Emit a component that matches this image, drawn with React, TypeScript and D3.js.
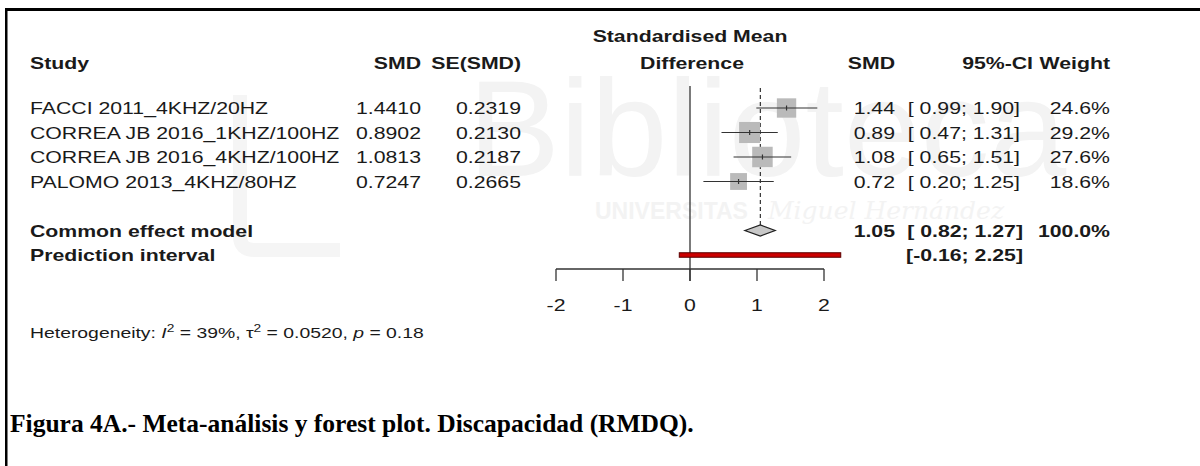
import React from "react";
import * as d3 from "d3";

// ---------- data ----------
const studies = [
  "FACCI 2011_4KHZ/20HZ",
  "CORREA JB 2016_1KHZ/100HZ",
  "CORREA JB 2016_4KHZ/100HZ",
  "PALOMO 2013_4KHZ/80HZ",
];
const smd = [1.441, 0.8902, 1.0813, 0.7247];
const seSmd = [0.2319, 0.213, 0.2187, 0.2665];
const ciLower = [0.99, 0.47, 0.65, 0.2];
const ciUpper = [1.9, 1.31, 1.51, 1.25];
const weights = [24.6, 29.2, 27.6, 18.6];
const pooledEstimate = [1.05];
const pooledCI = [0.82, 1.27];
const predictionInterval = [-0.16, 2.25];
const xTicks = [-2, -1, 0, 1, 2];
const heterogeneity = { i2: "39%", tau2: "0.0520", p: "0.18" };

// ---------- layout ----------
const W = 1200;
const H = 466;
const FONT = "'Liberation Sans', Arial, Helvetica, sans-serif";
const FS = 17;
const SX = 1.25;

const x = d3.scaleLinear().domain([-2, 2]).range([556, 824]);
const yRow = d3.scaleLinear().domain([0, 1]).range([108, 132.5]);
const boxSide = d3.scaleSqrt().domain([0, 27.6]).range([0, 20.5]);

const f2 = d3.format(".2f");
const f4 = d3.format(".4f");
const f1 = d3.format(".1f");
const ciFmt = (v: number) => (v < 0 ? f2(v).replace("−", "-") : " " + f2(v));

type TProps = {
  x: number;
  cy: number;
  anchor?: "start" | "middle" | "end";
  bold?: boolean;
  size?: number;
  sx?: number;
  fill?: string;
  family?: string;
  children: React.ReactNode;
};

function T({ x, cy, anchor = "start", bold = false, size = FS, sx = SX, fill = "#1a1a1a", family = FONT, children }: TProps) {
  const base = cy + size * 0.36;
  return (
    <text
      transform={`translate(${x},${base}) scale(${sx},1)`}
      textAnchor={anchor}
      fontFamily={family}
      fontSize={size}
      fontWeight={bold ? "bold" : "normal"}
      fill={fill}
      style={{ whiteSpace: "pre" }}
    >
      {children}
    </text>
  );
}

export default function App() {
  const studyX = 30;
  const smdRight = 421;
  const seRight = 521;
  const rSmdRight = 895;
  const ciRight = 1020;
  const ciHeadRight = 1033;
  const wRight = 1110;

  const headerY = 63;
  const header2Y = 36;
  const pooledRow = 5;
  const predRow = 6;
  const axisY = 269;
  const tickLen = 12;
  const refTop = 86;

  const pe = pooledEstimate[0];
  const py = yRow(pooledRow);
  const dh = 5.5;
  const diamond = [
    [x(pooledCI[0]), py],
    [x(pe), py - dh],
    [x(pooledCI[1]), py],
    [x(pe), py + dh],
  ];

  return (
    <svg
      width={W}
      height={H}
      viewBox={`0 0 ${W} ${H}`}
      style={{ position: "absolute", left: 0, top: 0, background: "#fff" }}
    >
      <rect x={0} y={0} width={W} height={H} fill="#fff" />

      {/* faint watermark */}
      <path d="M 240 95 L 240 236 Q 240 250 254 250 L 340 250" fill="none" stroke="#f5f5f5" strokeWidth={14} />
      <g fill="#f3f3f3" fontFamily={FONT} aria-hidden="true">
        <text x={468} y={176} fontSize={138}>Biblioteca</text>
        <text x={595} y={219} fontSize={23} fontWeight="bold">UNIVERSITAS</text>
        <text x={768} y={219} fontSize={25} fontStyle="italic" fontFamily="'DejaVu Serif', serif">Miguel Hernández</text>
      </g>

      {/* border */}
      <rect x={5} y={8} width={W - 5} height={3} fill="#000" />
      <rect x={5} y={8} width={2.5} height={H - 8} fill="#000" />

      {/* headers */}
      <T x={studyX} cy={headerY} bold>Study</T>
      <T x={smdRight} cy={headerY} bold anchor="end">SMD</T>
      <T x={seRight} cy={headerY} bold anchor="end">SE(SMD)</T>
      <T x={x(0)} cy={header2Y} bold anchor="middle">Standardised Mean</T>
      <T x={x(0) + 2} cy={headerY} bold anchor="middle">Difference</T>
      <T x={rSmdRight} cy={headerY} bold anchor="end">SMD</T>
      <T x={ciHeadRight} cy={headerY} bold anchor="end">95%-CI</T>
      <T x={wRight} cy={headerY} bold anchor="end">Weight</T>

      {/* reference lines */}
      <line x1={x(0)} x2={x(0)} y1={refTop} y2={axisY + tickLen} stroke="#333" strokeWidth={1.3} />
      <line x1={x(pe)} x2={x(pe)} y1={refTop + 2} y2={py - dh} stroke="#333" strokeWidth={1.2} strokeDasharray="4,3" />

      {/* studies */}
      {studies.map((s, i) => {
        const cy = yRow(i);
        const side = boxSide(weights[i]);
        return (
          <g key={s}>
            <T x={studyX} cy={cy}>{s}</T>
            <T x={smdRight} cy={cy} anchor="end">{f4(smd[i])}</T>
            <T x={seRight} cy={cy} anchor="end">{f4(seSmd[i])}</T>
            <rect x={x(smd[i]) - side / 2} y={cy - side / 2} width={side} height={side} fill="#bababa" />
            <line x1={x(ciLower[i])} x2={x(ciUpper[i])} y1={cy} y2={cy} stroke="#333" strokeWidth={1.2} />
            <line x1={x(smd[i])} x2={x(smd[i])} y1={cy - 2.5} y2={cy + 2.5} stroke="#333" strokeWidth={1.2} />
            <T x={rSmdRight} cy={cy} anchor="end">{f2(smd[i])}</T>
            <T x={ciRight} cy={cy} anchor="end">{`[${ciFmt(ciLower[i])}; ${f2(ciUpper[i])}]`}</T>
            <T x={wRight} cy={cy} anchor="end">{`${f1(weights[i])}%`}</T>
          </g>
        );
      })}

      {/* pooled */}
      <T x={studyX} cy={py} bold>Common effect model</T>
      <polygon points={diamond.map((p) => p.join(",")).join(" ")} fill="#c8c8c8" stroke="#222" strokeWidth={1.3} />
      <T x={rSmdRight} cy={py} bold anchor="end">{f2(pe)}</T>
      <T x={ciRight + 3} cy={py} bold anchor="end">{`[${ciFmt(pooledCI[0])}; ${f2(pooledCI[1])}]`}</T>
      <T x={wRight} cy={py} bold anchor="end">{`${f1(weights.reduce((a, b) => a + b, 0))}%`}</T>

      {/* prediction interval */}
      <T x={studyX} cy={yRow(predRow)} bold>Prediction interval</T>
      <rect
        x={x(predictionInterval[0])}
        y={yRow(predRow) - 2.25}
        width={x(predictionInterval[1]) - x(predictionInterval[0])}
        height={4.5}
        fill="#cc0000"
        stroke="#5a0000"
        strokeWidth={1}
      />
      <T x={ciRight + 3} cy={yRow(predRow)} bold anchor="end">{`[${ciFmt(predictionInterval[0])}; ${f2(predictionInterval[1])}]`}</T>

      {/* axis */}
      <line x1={x(-2)} x2={x(2)} y1={axisY} y2={axisY} stroke="#333" strokeWidth={1.3} />
      {xTicks.map((t) => (
        <g key={t}>
          <line x1={x(t)} x2={x(t)} y1={axisY} y2={axisY + tickLen} stroke="#333" strokeWidth={1.3} />
          <T x={x(t)} cy={305} anchor="middle">{String(t)}</T>
        </g>
      ))}

      {/* heterogeneity */}
      <text
        transform={`translate(${studyX},${332 + 15.5 * 0.36}) scale(${SX},1)`}
        fontFamily={FONT}
        fontSize={15.5}
        fill="#1a1a1a"
      >
        {"Heterogeneity: "}
        <tspan fontStyle="italic">I</tspan>
        <tspan dy={-6} fontSize={11}>2</tspan>
        <tspan dy={6}>{` = ${heterogeneity.i2}, τ`}</tspan>
        <tspan dy={-6} fontSize={11}>2</tspan>
        <tspan dy={6}>{` = ${heterogeneity.tau2}, `}</tspan>
        <tspan fontStyle="italic">p</tspan>
        <tspan>{` = ${heterogeneity.p}`}</tspan>
      </text>

      {/* caption */}
      <text x={10} y={432} fontFamily="'Liberation Serif', 'Times New Roman', serif" fontSize={25.5} fontWeight="bold" fill="#000">
        Figura 4A.- Meta-análisis y forest plot. Discapacidad (RMDQ).
      </text>
    </svg>
  );
}
